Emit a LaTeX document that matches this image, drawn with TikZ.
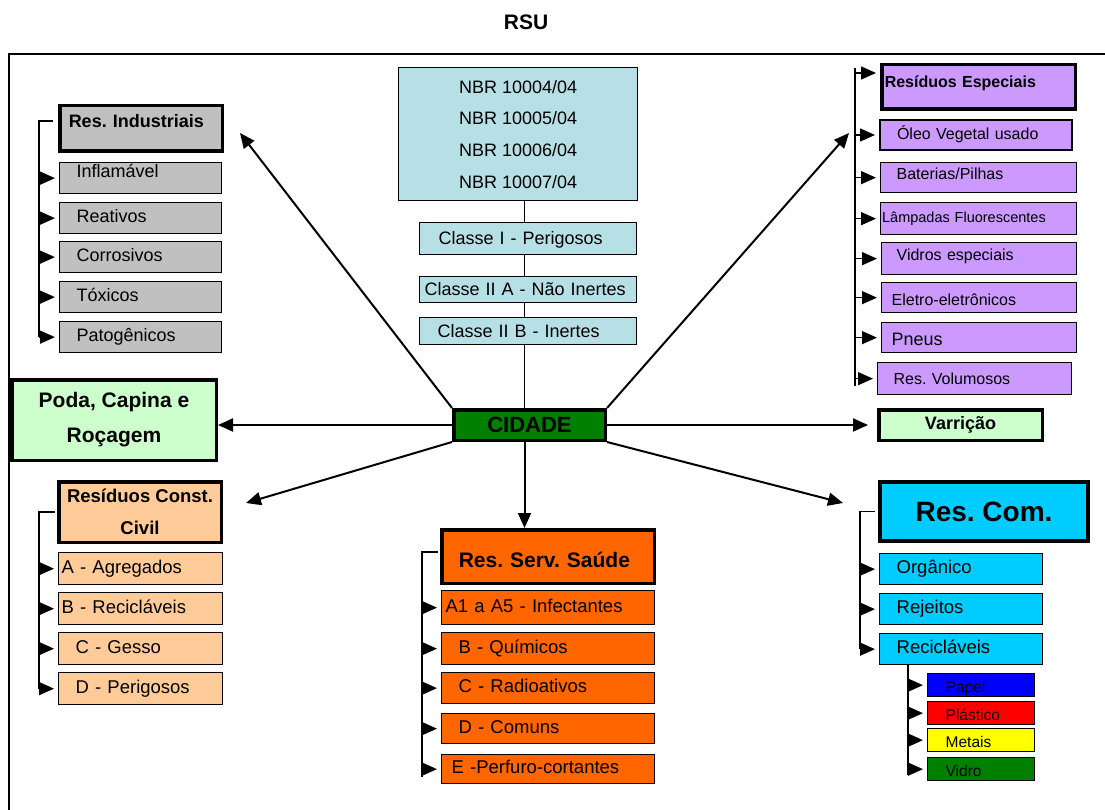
\documentclass[tikz,border=0pt]{standalone}
\usepackage{fontspec}
\setmainfont{Liberation Sans}
\usepackage{xcolor}
\usepackage{tikz}
\usetikzlibrary{
    positioning,
    arrows.meta,
    calc,
    backgrounds
}
\definecolor{indgray}{RGB}{192,192,192}
\definecolor{nbrcyan}{RGB}{183,223,230}
\definecolor{espviolet}{RGB}{204,153,255}
\definecolor{palegreen}{RGB}{204,255,204}
\definecolor{peach}{RGB}{255,204,153}
\definecolor{saudeorange}{RGB}{255,102,0}
\definecolor{comcyan}{RGB}{0,204,255}
\definecolor{darkgreen}{RGB}{0,128,0}
\definecolor{pureblue}{RGB}{0,0,255}
\definecolor{purered}{RGB}{255,0,0}
\definecolor{pureyellow}{RGB}{255,255,0}

\newcommand{\fsz}[1]{\fontsize{#1}{#1}\selectfont}
\newcommand{\cellpad}{0pt}
\frenchspacing

\tikzset{
    lpad/.code={\def\cellpad{#1}},
    cell/.style={
        draw, line width=1.3pt, anchor=north west,
        inner xsep=0pt, inner ysep=0pt, align=left,
        lpad=0pt, execute at begin node={\hspace*{\cellpad}}
    },
    item/.style={
        cell, text height=12pt, text depth=3pt
    },
    head/.style={
        cell, line width=3.5pt, font=\bfseries\fsz{18}
    },
    link_arrow/.style={
        -{Triangle[length=15pt,width=13pt]}, line width=2pt
    },
    tick_arrow/.style={
        -{Triangle[length=15pt,width=13pt]}, line width=1.5pt, shorten >=4pt
    },
    bus/.style={
        line width=1.6pt
    }
}

\begin{document}
\begin{tikzpicture}[
    x=1pt, y=-1pt,
    ind_cell/.style={item, fill=indgray, minimum width=162pt, text width=162pt, minimum height=31pt, font=\fsz{18}, lpad=17pt},
    cls_cell/.style={item, fill=nbrcyan, minimum width=217pt, text width=217pt, font=\fsz{18}, text depth=0pt},
    esp_cell/.style={item, fill=espviolet, minimum width=195pt, text width=195pt, minimum height=31pt, font=\fsz{16}, lpad=16pt},
    rcc_cell/.style={item, fill=peach, minimum width=164pt, text width=164pt, minimum height=32pt, font=\fsz{18.5}, lpad=17pt},
    rss_cell/.style={item, fill=saudeorange, minimum width=213pt, text width=213pt, font=\fsz{18.5}, lpad=17pt},
    com_cell/.style={item, fill=comcyan, minimum width=163pt, text width=163pt, minimum height=31pt, font=\fsz{18.5}, lpad=17pt},
    rec_cell/.style={item, minimum width=107pt, text width=107pt, minimum height=23pt, font=\fsz{15.5}, lpad=18pt, text height=14pt, text depth=0pt}
  ]
    \useasboundingbox (0,0) rectangle (1105,810);

    \node[font=\bfseries\fsz{21}] (title) at (526,22) {RSU};
    \draw[line width=2.5pt] (9,810) |- (1105,54);

    % industriais
    \node[head, fill=indgray, minimum width=162.5pt, text width=162.5pt, minimum height=45.5pt, lpad=9pt, text height=13pt, text depth=15pt] (ind_head) at (58,104) {Res. Industriais};
    \node[ind_cell, text depth=13pt] (ind_1) at (59,162) {Inflamável};
    \node[ind_cell] (ind_2) at (59,202) {Reativos};
    \node[ind_cell] (ind_3) at (59,241) {Corrosivos};
    \node[ind_cell] (ind_4) at (59,281) {Tóxicos};
    \node[ind_cell] (ind_5) at (59,321) {Patogênicos};

    \coordinate (ind_bus) at (39,121);
    \draw[bus] ([xshift=-5pt]ind_head.west |- ind_bus) -| (ind_bus |- ind_5.west);
    \foreach \n in {1,...,5} \draw[tick_arrow] (ind_bus |- ind_\n.west) -- (ind_\n.west);

    % normas
    \node[cell, fill=nbrcyan, align=center, minimum width=239pt, minimum height=133pt, font=\fontsize{18}{31.7}\selectfont] (nbr) at (398,67) {NBR 10004/04\\NBR 10005/04\\NBR 10006/04\\NBR 10007/04};
    \node[cls_cell, minimum height=32pt, lpad=19pt] (cls_1) at (419,222) {Classe I - Perigosos};
    \node[cls_cell, minimum height=26pt, lpad=5pt] (cls_2a) at (419,276) {Classe II A - Não Inertes};
    \node[cls_cell, minimum height=27pt, lpad=18pt] (cls_2b) at (419,317) {Classe II B - Inertes};

    \node[head, fill=darkgreen, align=center, minimum width=151.5pt, minimum height=30.5pt, font=\bfseries\fsz{22}] (cid) at (452,408) {CIDADE};

    % especiais
    \node[head, fill=espviolet, minimum width=193.5pt, text width=193.5pt, minimum height=44.5pt, font=\bfseries\fsz{16}, lpad=3pt, text height=12pt, text depth=10pt] (esp_head) at (880,63) {Resíduos Especiais};
    \node[esp_cell, line width=2pt, minimum width=192pt, text width=192pt, minimum height=30pt, lpad=17pt] (esp_1) at (879,119) {Óleo Vegetal usado};
    \node[esp_cell, minimum width=196pt, text width=196pt, minimum height=30pt, text depth=9pt] (esp_2) at (880,162) {Baterias/Pilhas};
    \node[esp_cell, minimum width=196pt, text width=196pt, minimum height=32pt, lpad=1.5pt, text depth=5pt, font=\fsz{14.5}] (esp_3) at (880,202) {Lâmpadas Fluorescentes};
    \node[esp_cell, minimum height=32pt, lpad=15pt, text depth=9pt] (esp_4) at (881,242) {Vidros especiais};
    \node[esp_cell, minimum height=30pt, lpad=10pt, text height=15pt, text depth=0pt] (esp_5) at (881,282) {Eletro-eletrônicos};
    \node[esp_cell, minimum height=30pt, lpad=10pt, text height=15pt, text depth=0pt, font=\fsz{18}] (esp_6) at (881,322) {Pneus};
    \node[esp_cell, minimum width=194pt, text width=194pt, minimum height=32pt, text depth=1pt] (esp_7) at (877,362) {Res. Volumosos};

    \coordinate (esp_bus) at (855,68);
    \coordinate (esp_top) at ([yshift=-10pt]esp_head.north west);
    \draw[bus] (esp_bus) -- (esp_bus |- esp_7.west) -- ++(0,7);
    \draw[tick_arrow] (esp_bus |- esp_top) -- (esp_top);
    \foreach \n in {1,...,7} \draw[tick_arrow] (esp_bus |- esp_\n.west) -- (esp_\n.west);

    \node[head, fill=palegreen, align=center, minimum width=163.5pt, minimum height=30.5pt, font=\bfseries\fsz{18}] (var) at (877,408) {Varrição};
    \node[head, fill=palegreen, align=center, minimum width=204.5pt, minimum height=80.5pt, font=\bfseries\fontsize{21}{35}\selectfont] (poda) at (10,378) {Poda, Capina e\\Roçagem};

    % construcao civil
    \node[head, fill=peach, align=center, minimum width=162.5pt, minimum height=60.5pt, font=\bfseries\fontsize{18.5}{32}\selectfont] (rcc_head) at (57,480) {Resíduos Const.\\Civil};
    \node[rcc_cell, lpad=3pt] (rcc_1) at (58,552) {A - Agregados};
    \node[rcc_cell, lpad=3pt] (rcc_2) at (58,592) {B - Recicláveis};
    \node[rcc_cell] (rcc_3) at (58,632) {C - Gesso};
    \node[rcc_cell] (rcc_4) at (58,672) {D - Perigosos};

    \coordinate (rcc_bus) at (39,513);
    \draw[bus] ([xshift=-2pt]rcc_head.west) -| (rcc_bus |- rcc_4.west);
    \foreach \n in {1,...,4} \draw[tick_arrow] (rcc_bus |- rcc_\n.west) -- (rcc_\n.west);

    % servicos de saude
    \node[head, fill=saudeorange, minimum width=212.5pt, text width=212.5pt, minimum height=53.5pt, font=\bfseries\fsz{21}, lpad=17pt, text height=21pt, text depth=0pt] (rss_head) at (440,528) {Res. Serv. Saúde};
    \node[rss_cell, minimum height=34pt, lpad=4pt] (rss_1) at (441,590) {A1 a A5 - Infectantes};
    \node[rss_cell, minimum height=32pt] (rss_2) at (441,632) {B - Químicos};
    \node[rss_cell, minimum height=31pt] (rss_3) at (441,672) {C - Radioativos};
    \node[rss_cell, minimum height=30pt] (rss_4) at (441,713) {D - Comuns};
    \node[rss_cell, minimum height=29pt, lpad=10pt] (rss_5) at (441,754) {E -Perfuro-cortantes};

    \coordinate (rss_bus) at (422,552);
    \draw[bus] ([xshift=-2pt]rss_bus -| rss_head.west) -- (rss_bus) -- (rss_bus |- rss_5.west) -- ++(0,8);
    \foreach \n in {1,...,5} \draw[tick_arrow] (rss_bus |- rss_\n.west) -- (rss_\n.west);

    % comerciais
    \node[head, fill=comcyan, line width=4pt, align=center, minimum width=208pt, minimum height=59pt, font=\bfseries\fsz{28}] (com_head) at (878,480) {Res. Com.};
    \node[com_cell] (com_1) at (879,553) {Orgânico};
    \node[com_cell] (com_2) at (879,593) {Rejeitos};
    \node[com_cell] (com_3) at (879,633) {Recicláveis};

    \coordinate (com_bus) at (860,513);
    \draw[bus] ([xshift=-3pt]com_head.west) -| (com_bus |- com_3.west);
    \foreach \n in {1,...,3} \draw[tick_arrow] (com_bus |- com_\n.west) -- (com_\n.west);

    \node[rec_cell, fill=pureblue] (rec_1) at (927,673) {Papel};
    \node[rec_cell, fill=purered] (rec_2) at (927,701) {Plástico};
    \node[rec_cell, fill=pureyellow] (rec_3) at (927,728) {Metais};
    \node[rec_cell, fill=darkgreen] (rec_4) at (927,757) {Vidro};

    \coordinate (rec_bus) at (908,0);
    \draw[bus] (rec_bus |- com_3.south) -- (rec_bus |- rec_4.west) -- ++(0,6);
    \foreach \n in {1,...,4} \draw[tick_arrow] (rec_bus |- rec_\n.west) -- (rec_\n.west);

    % ligacoes da cidade
    \coordinate (ind_tip) at ([xshift=16pt,yshift=20pt]ind_head.south east);
    \coordinate (esp_tip) at ([xshift=-30pt,yshift=2pt]esp_1.west);
    \coordinate (rcc_tip) at ([xshift=23pt,yshift=9pt]rcc_head.east);
    \coordinate (com_tip) at ([xshift=-35pt,yshift=8.5pt]com_head.west);

    \draw[link_arrow] (cid.north west) -- (ind_tip);
    \draw[link_arrow] (cid.north east) -- (esp_tip);
    \draw[link_arrow] (cid.south west) -- (rcc_tip);
    \draw[link_arrow] (cid.south east) -- (com_tip);
    \draw[link_arrow] (cid.west) -- (cid.west -| poda.east);
    \draw[link_arrow, shorten >=9pt] (cid.east) -- (var.west);
    \draw[link_arrow] ([xshift=-5pt]cid.south) -- ([xshift=-5pt]cid.south |- rss_head.north);

    \begin{scope}[on background layer]
      \draw[bus] ([xshift=-5pt]cid.north) -- ([xshift=-5pt]cid.north |- nbr.south);
    \end{scope}

\end{tikzpicture}
\end{document}
